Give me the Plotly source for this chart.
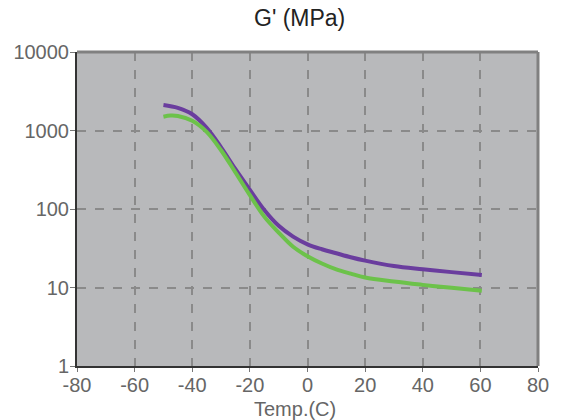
import plotly.graph_objects as go

temp_purple = [-50, -45, -40, -35, -30, -25, -20, -15, -10, -5, 0, 5, 10, 15, 20, 30, 40, 50, 60.5]
g_purple = [2110, 1940, 1610, 1080, 610, 321, 175, 97, 61, 44.5, 35.5, 30.7, 27.3, 24.3, 22, 18.8, 17.1, 15.7, 14.4]

temp_green = [-50, -47.5, -45, -40, -35, -30, -25, -20, -15, -10, -5, 0, 5, 10, 15, 20, 30, 40, 50, 60.5]
g_green = [1500, 1550, 1530, 1330, 960, 560, 292, 150, 80, 50, 33, 25, 20.2, 17, 15, 13.4, 11.9, 10.8, 9.9, 9.1]

x_ticks = [-80, -60, -40, -20, 0, 20, 40, 60, 80]
x_labels = ["-80", "-60", "-40", "-20", "0", "20", "40", "60", "80"]
y_ticks = [1, 10, 100, 1000, 10000]
y_labels = ["1", "10", "100", "1000", "10000"]

fig = go.Figure()
fig.add_trace(go.Scatter(x=temp_purple, y=g_purple, mode="lines",
                         line=dict(color="#6a3d9e", width=4, shape="spline", smoothing=1.0)))
fig.add_trace(go.Scatter(x=temp_green, y=g_green, mode="lines",
                         line=dict(color="#6cc24a", width=4, shape="spline", smoothing=1.0)))

font_family = "Liberation Sans, Arial, sans-serif"
fig.update_layout(
    width=562, height=420,
    margin=dict(l=77, r=24, t=52, b=54),
    paper_bgcolor="white",
    plot_bgcolor="#b8b9bb",
    showlegend=False,
    font=dict(family=font_family, color="#555555", size=20),
    xaxis=dict(range=[-80, 80], tickvals=x_ticks, ticktext=x_labels, ticks="outside", ticklen=4,
               tickcolor="#777777", showgrid=True, gridcolor="#8a8a8a", griddash="dash",
               gridwidth=1.5, zeroline=False, showline=True, linecolor="#333333", linewidth=2,
               ticklabelstandoff=-4,
               tickfont=dict(size=20, color="#666666")),
    yaxis=dict(type="log", range=[0, 4], tickvals=y_ticks, ticktext=y_labels, ticks="outside",
               ticklen=5, tickcolor="#777777", showgrid=True, gridcolor="#8a8a8a", griddash="dash",
               gridwidth=1.5, zeroline=False, showline=True, linecolor="#333333", linewidth=2,
               ticklabelstandoff=-3,
               tickfont=dict(size=20, color="#666666")),
    shapes=[
        dict(type="line", xref="paper", yref="paper", x0=0, x1=1, y0=1, y1=1,
             line=dict(color="#808080", width=3)),
        dict(type="line", xref="paper", yref="paper", x0=1, x1=1, y0=0, y1=1,
             line=dict(color="#808080", width=3)),
    ],
    annotations=[
        dict(text="G' (MPa)", xref="paper", yref="paper", x=0.482, y=1, yshift=34,
             showarrow=False, font=dict(size=23, color="#222222"), xanchor="center", yanchor="middle"),
        dict(text="Temp.(C)", xref="paper", yref="paper", x=0.473, y=0, yshift=-30,
             showarrow=False, font=dict(size=20, color="#666666"), xanchor="center", yanchor="top"),
    ],
)

fig.write_html("out.html")
